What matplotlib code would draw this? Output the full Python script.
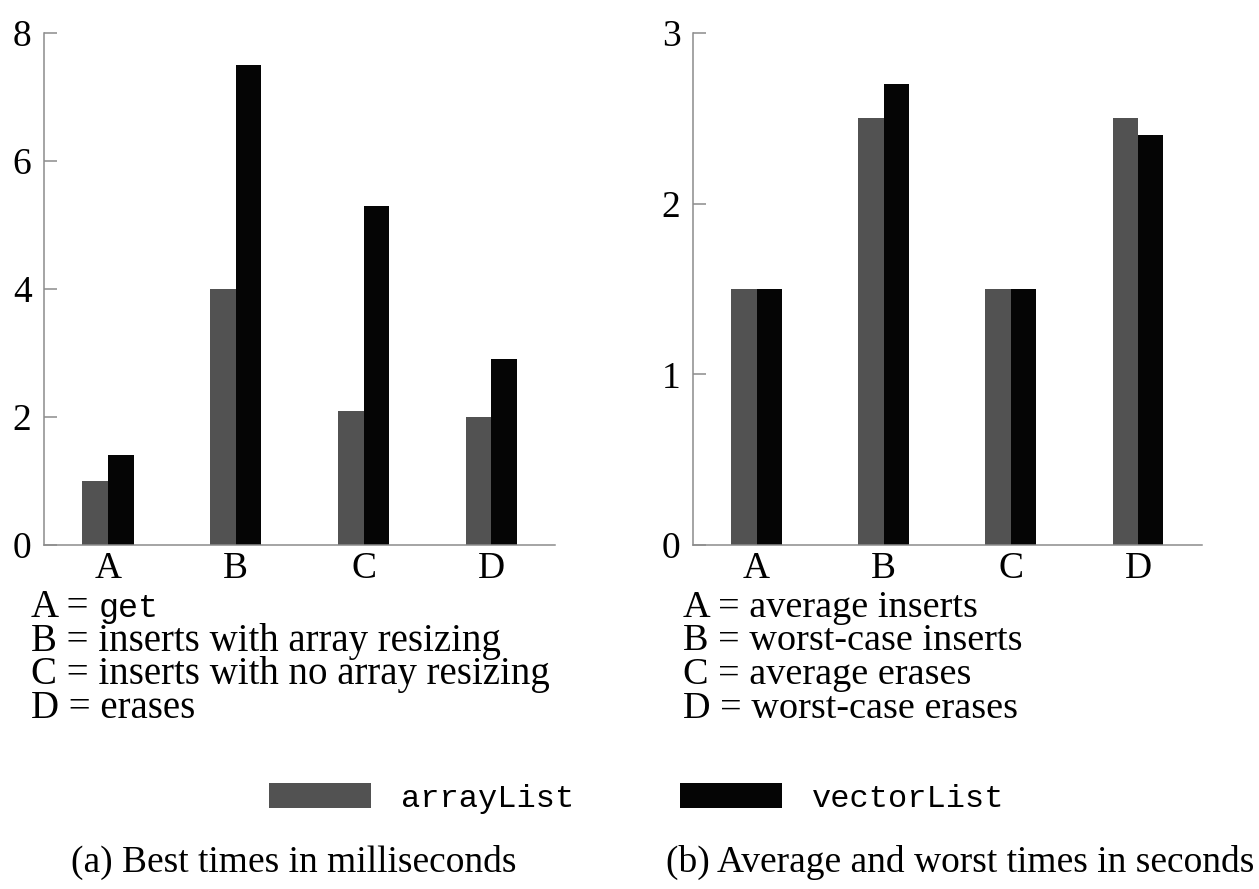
import matplotlib.pyplot as plt
import numpy as np

# operation groups on the x axis
groups = ['A', 'B', 'C', 'D']

# (a) best times, milliseconds
best_array = [1.0, 4.0, 2.1, 2.0]
best_vector = [1.4, 7.5, 5.3, 2.9]

# (b) average / worst times, seconds
avg_array = [1.5, 2.5, 1.5, 2.5]
avg_vector = [1.5, 2.7, 1.5, 2.4]

left_defs = [('A = ', 'get'),
             ('B = inserts with array resizing', None),
             ('C = inserts with no array resizing', None),
             ('D = erases', None)]
right_defs = ['A = average inserts', 'B = worst-case inserts',
              'C = average erases', 'D = worst-case erases']

series_names = ['arrayList', 'vectorList']
captions = ['(a) Best times in milliseconds',
            '(b) Average and worst times in seconds']

serif = 'Liberation Serif'
mono = 'Liberation Mono'
grey = '#525252'
black = '#050505'
axis_grey = '#8c8c8c'

fig = plt.figure(figsize=(12.59, 8.89), dpi=100)
ax1 = fig.add_axes([0.035, 0.387, 0.406, 0.576])
ax2 = fig.add_axes([0.5504, 0.387, 0.404, 0.576])

x = np.arange(len(groups))
w = 0.2


def style(ax, ymax, step):
    ax.set_xlim(-0.5, 3.5)
    ax.set_ylim(0, ymax)
    ax.set_yticks(np.arange(0, ymax + step / 2, step))
    ax.set_xticks(x)
    ax.set_xticklabels(groups)
    for s in ['top', 'right']:
        ax.spines[s].set_visible(False)
    for s in ['left', 'bottom']:
        ax.spines[s].set_color(axis_grey)
        ax.spines[s].set_linewidth(1.1)
    ax.tick_params(axis='y', direction='in', length=9, width=1.1,
                   color=axis_grey, pad=9)
    ax.tick_params(axis='x', length=0, pad=5)
    for lab in ax.get_xticklabels() + ax.get_yticklabels():
        lab.set_fontfamily(serif)
        lab.set_fontsize(27)


b1 = ax1.bar(x - w / 2, best_array, w, color=grey)
b2 = ax1.bar(x + w / 2, best_vector, w, color=black)
style(ax1, 8, 2)

ax2.bar(x - w / 2, avg_array, w, color=grey)
ax2.bar(x + w / 2, avg_vector, w, color=black)
style(ax2, 3, 1)

# group definitions under each chart, one line per baseline
H = 889
line_h = 33.5 / H
base0 = 1 - 617 / H
fig.canvas.draw()
renderer = fig.canvas.get_renderer()
for i, (txt, code) in enumerate(left_defs):
    yb = base0 - i * line_h
    t = fig.text(0.025, yb, txt, fontfamily=serif, fontsize=28,
                 va='baseline', ha='left')
    if code:
        bb = t.get_window_extent(renderer)
        fig.text(bb.x1 / fig.bbox.width, yb, code, fontfamily=mono,
                 fontsize=24, va='baseline', ha='left')
for i, txt in enumerate(right_defs):
    fig.text(0.5425, base0 - i * line_h, txt, fontfamily=serif, fontsize=27.5,
             va='baseline', ha='left')

fig.legend([b1, b2], series_names, loc='center', bbox_to_anchor=(0.506, 0.102),
           ncol=2, frameon=False, prop={'family': mono, 'size': 23},
           handlelength=3.2, handleheight=0.85, handletextpad=0.94,
           columnspacing=3.3)

fig.text(0.233, 1 - 862 / H, captions[0], fontfamily=serif, fontsize=27,
         ha='center', va='center')
fig.text(0.7625, 1 - 862 / H, captions[1], fontfamily=serif, fontsize=27,
         ha='center', va='center')

fig.savefig('out.png', dpi=100)
